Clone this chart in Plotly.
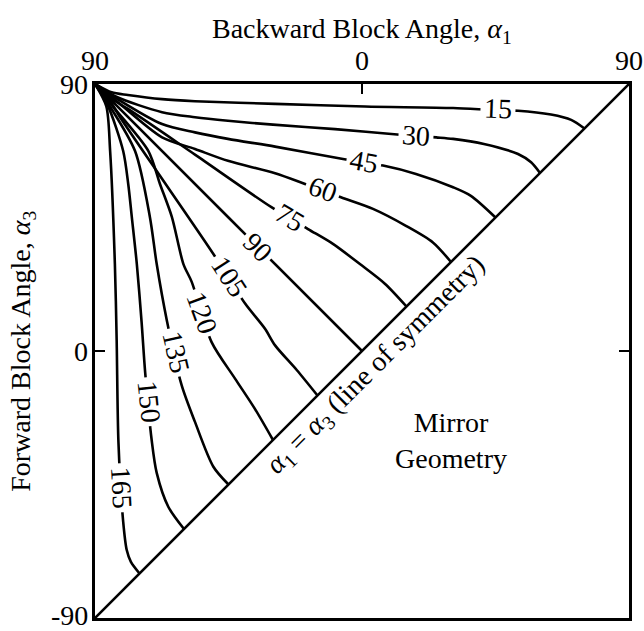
import plotly.graph_objects as go

# Contour levels of the scattering angle (degrees)
levels = [15, 30, 45, 60, 75, 90, 105, 120, 135, 150, 165]

# Contour paths in (alpha1, alpha3) coordinates, degrees
c15_x = [-90, -84.4, -78.9, -67.4, -56.3, -29.3, 1.0, 30.7, 44.8, 52.6, 63.7, 70.5, 75.0]
c15_y = [90, 87.2, 86.3, 84.9, 84.2, 83.3, 82.4, 81.9, 81.2, 81.0, 79.7, 77.9, 75.0]

c30_x = [-90, -82.8, -67.4, -56.3, -45.2, -30.0, -9.1, 12.8, 25.0, 30.7, 41.1, 52.6, 57.0, 60.0]
c30_y = [90, 85.7, 80.5, 78.8, 77.6, 76.3, 74.8, 72.9, 72.0, 71.5, 69.8, 66.4, 63.6, 60.0]

c45_x = [-90, -83.0, -67.4, -56.3, -45.2, -29.3, -6.4, 7.1, 18.2, 30.7, 36.7, 45.0]
c45_y = [90, 85.3, 76.5, 73.7, 71.5, 68.9, 64.7, 62.5, 59.7, 55.2, 52.3, 45.0]

c60_x = [-90, -83.4, -67.4, -56.3, -45.2, -29.3, -19.2, -7.1, 3.7, 14.8, 23.9, 30.0]
c60_y = [90, 84.8, 72.0, 68.1, 64.1, 59.9, 56.3, 51.8, 47.9, 42.2, 36.6, 30.0]

c75_x = [-90, -83.6, -78.9, -56.3, -30.4, -18.2, -9.8, -0.7, 7.8, 15.0]
c75_y = [90, 84.5, 81.6, 66.2, 48.4, 41.1, 36.1, 29.3, 22.6, 15.0]

c90_x = [-90, -45.0, 0.0]
c90_y = [90, 45.0, 0.0]

c105_x = [-90, -84.5, -81.6, -66.2, -50.1, -39.4, -32.7, -29.3, -22.0, -15.0]
c105_y = [90, 83.6, 78.9, 56.3, 32.7, 16.0, 7.5, 1.9, -6.4, -15.0]

c120_x = [-90, -84.8, -72.0, -68.1, -64.1, -60.2, -57.4, -50.7, -42.8, -36.1, -30.0]
c120_y = [90, 83.4, 67.4, 56.3, 45.2, 29.3, 23.3, 3.0, -9.3, -19.5, -30.0]

c135_x = [-90, -85.3, -76.5, -71.5, -69.2, -65.8, -60.8, -56.3, -50.1, -45.0]
c135_y = [90, 83.0, 67.4, 45.2, 29.3, 10.4, -11.5, -23.9, -39.0, -45.0]

c150_x = [-90, -85.7, -80.5, -78.8, -77.6, -75.9, -74.3, -73.1, -70.9, -69.2, -65.3, -60.0]
c150_y = [90, 82.8, 67.4, 56.3, 45.2, 29.3, 9.8, -7.1, -30.0, -41.1, -52.5, -60.0]

c165_x = [-90, -86.2, -84.9, -83.3, -82.7, -82.1, -80.5, -79.3, -77.9, -75.0]
c165_y = [90, 82.5, 67.4, 29.3, 3.7, -30.7, -57.5, -67.1, -71.1, -75.0]

paths = [
    (c15_x, c15_y), (c30_x, c30_y), (c45_x, c45_y), (c60_x, c60_y),
    (c75_x, c75_y), (c90_x, c90_y), (c105_x, c105_y), (c120_x, c120_y),
    (c135_x, c135_y), (c150_x, c150_y), (c165_x, c165_y),
]

# Inline label anchors (alpha1, alpha3) and text rotation for each level
label_x = [45.7, 18.3, 0.6, -13.1, -24.4, -35.0, -44.8, -54.0, -62.8, -71.8, -81.0]
label_y = [81.6, 72.6, 63.9, 54.6, 45.1, 35.0, 25.0, 12.9, -0.3, -17.1, -46.0]
label_angle = [2, 4, 10, 20, 31, 45, 57, 70, 77, 84, 87]

# Axis ticks
x_ticks = [-90, 0, 90]
x_ticktext = ["90", "0", "90"]
y_ticks = [-90, 0, 90]
y_ticktext = ["-90", "0", "90"]

FONT = "Liberation Serif"
FS = 28

fig = go.Figure()

for (px, py) in paths:
    fig.add_trace(go.Scatter(
        x=px, y=py, mode="lines",
        line=dict(color="black", width=2.6, shape="spline", smoothing=0.8),
        hoverinfo="skip", showlegend=False,
    ))

# Line of symmetry alpha1 = alpha3
fig.add_trace(go.Scatter(
    x=[-90, 90], y=[-90, 90], mode="lines",
    line=dict(color="black", width=2.6),
    hoverinfo="skip", showlegend=False,
))

annotations = []
for lv, lx, ly, la in zip(levels, label_x, label_y, label_angle):
    annotations.append(dict(
        x=lx, y=ly, xref="x", yref="y", text=str(lv), showarrow=False,
        textangle=la, bgcolor="white", borderpad=3,
        font=dict(family=FONT, size=FS, color="black"),
    ))

# Left tick labels, right-aligned just outside the frame
for tv, tt in zip(y_ticks, y_ticktext):
    annotations.append(dict(
        x=0, y=tv, xref="paper", yref="y", text=tt, showarrow=False,
        xanchor="right", yanchor="middle", xshift=-5,
        yshift=3 if tv == -90 else 0,
        font=dict(family=FONT, size=FS, color="black"),
    ))

annotations.append(dict(
    x=0, y=0, xref="x", yref="y",
    text="<i>α</i><sub>1</sub> = <i>α</i><sub>3</sub> (line of symmetry)",
    showarrow=False, textangle=-45, xshift=14, yshift=-14,
    font=dict(family=FONT, size=FS, color="black"),
))

annotations.append(dict(
    x=30, y=-30, xref="x", yref="y", text="Mirror<br>Geometry",
    showarrow=False, align="center",
    font=dict(family=FONT, size=FS, color="black"),
))

annotations.append(dict(
    x=0.5, y=1.101, xref="paper", yref="paper",
    text="Backward Block Angle, <i>α</i><sub>1</sub>", showarrow=False,
    xanchor="center", yanchor="middle",
    font=dict(family=FONT, size=FS, color="black"),
))

annotations.append(dict(
    x=-0.137, y=0.5, xref="paper", yref="paper",
    text="Forward Block Angle, <i>α</i><sub>3</sub>", showarrow=False,
    textangle=-90, xanchor="center", yanchor="middle",
    font=dict(family=FONT, size=FS, color="black"),
))

axis_common = dict(
    range=[-90, 90], showgrid=False, zeroline=False,
    showline=True, linecolor="black", linewidth=2.5,
    ticks="inside", ticklen=10, tickwidth=1.5, tickcolor="black",
    tickfont=dict(family=FONT, size=FS, color="black"),
    ticklabeloverflow="allow", automargin=False,
    fixedrange=True,
)

fig.update_layout(
    width=644, height=631,
    margin=dict(l=95, r=15, t=84, b=13, autoexpand=False),
    paper_bgcolor="white", plot_bgcolor="white",
    xaxis=dict(side="top", tickvals=x_ticks, ticktext=x_ticktext,
               mirror=True, **axis_common),
    yaxis=dict(tickvals=y_ticks, showticklabels=False,
               mirror="ticks", **axis_common),
    annotations=annotations,
    showlegend=False,
)

fig.write_html("out.html")
